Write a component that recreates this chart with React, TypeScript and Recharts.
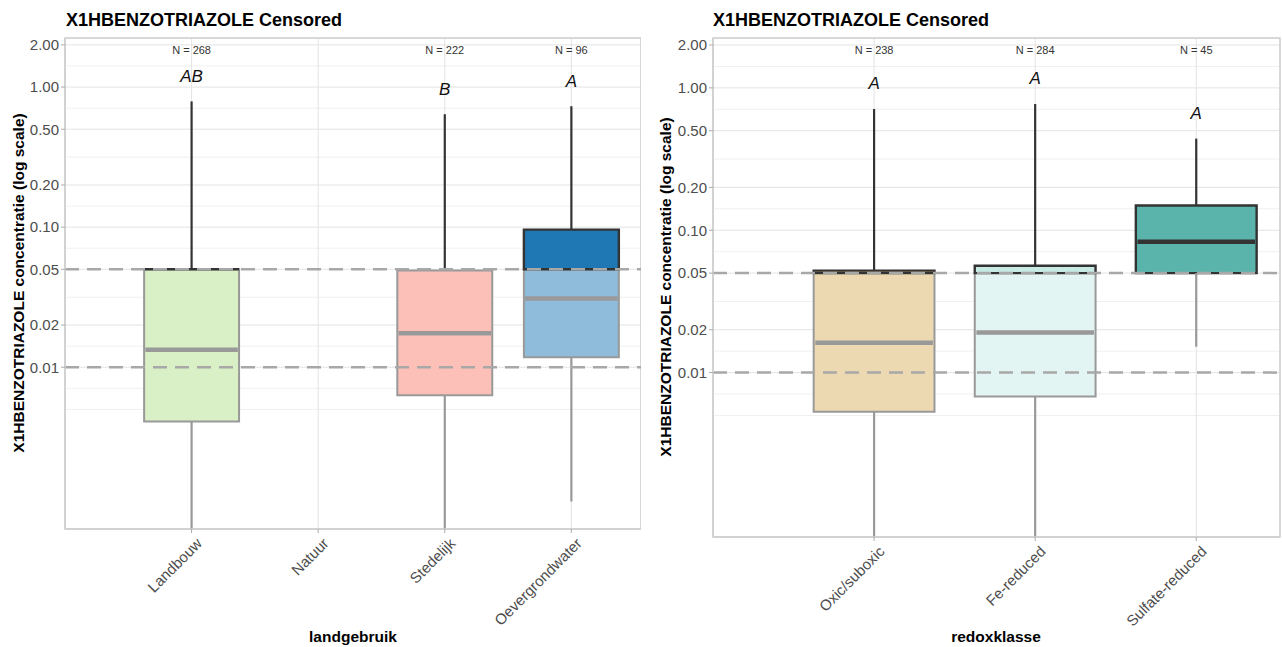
import React from "react";
import {
  ComposedChart,
  XAxis,
  YAxis,
  CartesianGrid,
  ReferenceArea,
  ReferenceLine,
  Scatter,
} from "recharts";

const TITLE = "X1HBENZOTRIAZOLE Censored";
const Y_TITLE = "X1HBENZOTRIAZOLE concentratie (log scale)";

// landgebruik panel
const landCats = ["Landbouw", "Natuur", "Stedelijk", "Oevergrondwater"];
const landN = [268, null, 222, 96];
const landLetters = ["AB", null, "B", "A"];
const landLow = [0.0007, null, 0.0007, 0.0011];
const landQ1 = [0.0041, null, 0.0063, 0.0118];
const landMedian = [0.0133, null, 0.0175, 0.031];
const landQ3 = [0.05, null, 0.049, 0.096];
const landHigh = [0.79, null, 0.64, 0.73];
const landColors = ["#b2df8a", "#cccccc", "#fb8072", "#1f78b4"];

// redoxklasse panel
const redoxCats = ["Oxic/suboxic", "Fe-reduced", "Sulfate-reduced"];
const redoxN = [238, 284, 45];
const redoxLetters = ["A", "A", "A"];
const redoxLow = [0.0007, 0.0007, 0.0152];
const redoxQ1 = [0.0053, 0.0068, 0.05];
const redoxMedian = [0.0162, 0.0191, 0.083];
const redoxQ3 = [0.052, 0.0563, 0.149];
const redoxHigh = [0.71, 0.77, 0.44];
const redoxColors = ["#d8b365", "#c7eae5", "#5ab4ac"];

const yTicks = [0.01, 0.02, 0.05, 0.1, 0.2, 0.5, 1, 2];
const yMinor = [0.005, 0.00707, 0.01414, 0.0316, 0.0707, 0.1414, 0.316, 0.707, 1.414];
const censorLines = [0.05, 0.01];
const LIMIT = 0.05;
const Y_DOMAIN: [number, number] = [0.0007, 2.24];
const N_Y = 1.85;

const DARK = "#333333";
const GREY = "#999999";
const FONT = "'Liberation Sans', Arial, Helvetica, sans-serif";

function lighten(hex: string) {
  const n = parseInt(hex.slice(1), 16);
  const r = Math.round(((n >> 16) & 255) * 0.5 + 127.5);
  const g = Math.round(((n >> 8) & 255) * 0.5 + 127.5);
  const b = Math.round((n & 255) * 0.5 + 127.5);
  return `rgb(${r},${g},${b})`;
}

type PanelProps = {
  cats: string[];
  n: (number | null)[];
  letters: (string | null)[];
  low: (number | null)[];
  q1: (number | null)[];
  median: (number | null)[];
  q3: (number | null)[];
  high: (number | null)[];
  colors: string[];
  left: number;
  width: number;
  marginRight: number;
  yAxisWidth: number;
  xAxisHeight: number;
  xMax: number;
};

function Panel(p: PanelProps) {
  const hw = 0.375;
  const marks: React.ReactElement[] = [];

  const seg = (key: string, x: number, a: number, b: number) => {
    // vertical segment split at the censoring limit
    if (b > LIMIT) {
      marks.push(
        <ReferenceLine key={key + "d"} segment={[{ x, y: Math.max(a, LIMIT) }, { x, y: b }]}
          stroke={DARK} strokeWidth={2.2} ifOverflow="hidden" />
      );
    }
    if (a < LIMIT) {
      marks.push(
        <ReferenceLine key={key + "g"} segment={[{ x, y: a }, { x, y: Math.min(b, LIMIT) }]}
          stroke={GREY} strokeWidth={2.2} ifOverflow="hidden" />
      );
    }
  };

  p.cats.forEach((_, i) => {
    const q1 = p.q1[i], q3 = p.q3[i], med = p.median[i], lo = p.low[i], hi = p.high[i];
    if (q1 == null || q3 == null || med == null || lo == null || hi == null) return;
    const x = i + 1;
    seg(`w${i}hi`, x, q3, hi);
    seg(`w${i}lo`, x, lo, q1);
    if (q1 < LIMIT) {
      marks.push(
        <ReferenceArea key={`b${i}l`} x1={x - hw} x2={x + hw} y1={q1} y2={Math.min(q3, LIMIT)}
          fill={lighten(p.colors[i])} fillOpacity={1} stroke={GREY} strokeWidth={2} ifOverflow="visible" />
      );
    }
    if (q3 > LIMIT) {
      marks.push(
        <ReferenceArea key={`b${i}u`} x1={x - hw} x2={x + hw} y1={Math.max(q1, LIMIT)} y2={q3}
          fill={p.colors[i]} fillOpacity={1} stroke={DARK} strokeWidth={2.4} ifOverflow="visible" />
      );
    } else if (q3 === LIMIT) {
      marks.push(
        <ReferenceLine key={`b${i}t`} segment={[{ x: x - hw, y: q3 }, { x: x + hw, y: q3 }]}
          stroke={DARK} strokeWidth={2.4} ifOverflow="visible" />
      );
    }
    marks.push(
      <ReferenceLine key={`m${i}`} segment={[{ x: x - hw + 0.01, y: med }, { x: x + hw - 0.01, y: med }]}
        stroke={med < LIMIT ? GREY : DARK} strokeWidth={4.5} ifOverflow="visible" />
    );
  });

  const nRows = p.cats
    .map((c, i) => ({ x: i + 1, nY: N_Y, n: p.n[i] }))
    .filter((r) => r.n != null);
  const letterRows = p.cats
    .map((c, i) => ({ x: i + 1, letterY: (p.high[i] ?? 0) * 1.5, letter: p.letters[i] }))
    .filter((r) => r.letter != null);
  const xTicks = p.cats.map((_, i) => i + 1);

  const renderTick = (t: any) => (
    <g transform={`translate(${t.x + 4},${t.y + 2})`}>
      <text x={0} y={0} dy="0.7em" textAnchor="end" transform="rotate(-45)"
        fill="#4d4d4d" fontSize={15} fontFamily={FONT}>
        {p.cats[t.payload.value - 1]}
      </text>
    </g>
  );

  return (
    <div style={{ position: "absolute", left: p.left, top: 0 }}>
      <ComposedChart width={p.width} height={647} margin={{ top: 38, right: p.marginRight, left: 0, bottom: 0 }}>
        <CartesianGrid stroke="#f0f0f0" strokeWidth={1} vertical={false} horizontalValues={yMinor} />
        <CartesianGrid stroke="#e3e3e3" strokeWidth={1} />
        <XAxis type="number" dataKey="x" domain={[0, p.xMax]} ticks={xTicks} interval={0}
          allowDataOverflow height={p.xAxisHeight} tick={renderTick}
          axisLine={{ stroke: "#d0d0d0", strokeWidth: 1.5 }} tickLine={{ stroke: "#aaaaaa" }} tickSize={4} />
        <YAxis type="number" scale="log" domain={Y_DOMAIN} ticks={yTicks} interval={0}
          allowDataOverflow width={p.yAxisWidth} tickFormatter={(v: number) => v.toFixed(2)}
          tick={{ fill: "#4d4d4d", fontSize: 15, fontFamily: FONT }}
          axisLine={{ stroke: "#d0d0d0", strokeWidth: 1.5 }} tickLine={{ stroke: "#aaaaaa" }} tickSize={4} />
        <ReferenceArea x1={0} x2={p.xMax} y1={Y_DOMAIN[0]} y2={Y_DOMAIN[1]} fill="none" fillOpacity={0}
          stroke="#d0d0d0" strokeWidth={1.5} ifOverflow="visible" />
        {marks}
        {censorLines.map((v) => (
          <ReferenceLine key={`c${v}`} y={v} stroke="#a8a8a8" strokeWidth={2.5} strokeDasharray="14 8" ifOverflow="hidden" />
        ))}
        <Scatter data={nRows} dataKey="nY" isAnimationActive={false}
          shape={(s: any) => (
            <text x={s.cx} y={s.cy} textAnchor="middle" dominantBaseline="central"
              fontSize={11} fill="#333" fontFamily={FONT}>{`N = ${s.payload.n}`}</text>
          )} />
        <Scatter data={letterRows} dataKey="letterY" isAnimationActive={false}
          shape={(s: any) => (
            <text x={s.cx} y={s.cy} textAnchor="middle" dominantBaseline="central"
              fontSize={17} fontStyle="italic" fill="#111" fontFamily={FONT}>{s.payload.letter}</text>
          )} />
      </ComposedChart>
    </div>
  );
}

export default function App() {
  return (
    <div style={{ position: "absolute", left: 0, top: 0, width: 1282, height: 647, background: "#fff", fontFamily: FONT }}>
      <Panel cats={landCats} n={landN} letters={landLetters} low={landLow} q1={landQ1}
        median={landMedian} q3={landQ3} high={landHigh} colors={landColors}
        left={0} width={641} marginRight={0} yAxisWidth={65} xAxisHeight={118} xMax={4.55} />
      <Panel cats={redoxCats} n={redoxN} letters={redoxLetters} low={redoxLow} q1={redoxQ1}
        median={redoxMedian} q3={redoxQ3} high={redoxHigh} colors={redoxColors}
        left={641} width={641} marginRight={2} yAxisWidth={72} xAxisHeight={110} xMax={3.52} />
      <svg width={1282} height={647} style={{ position: "absolute", left: 0, top: 0, pointerEvents: "none" }}>
        <g fontFamily={FONT} fontWeight={700} fill="#000">
          <text x={66} y={26} fontSize={18}>{TITLE}</text>
          <text x={713} y={26} fontSize={18}>{TITLE}</text>
          <text transform="translate(24,283) rotate(-90)" textAnchor="middle" fontSize={15.5}>{Y_TITLE}</text>
          <text transform="translate(671,287) rotate(-90)" textAnchor="middle" fontSize={15.5}>{Y_TITLE}</text>
          <text x={353} y={642} textAnchor="middle" fontSize={15.5}>landgebruik</text>
          <text x={996} y={642} textAnchor="middle" fontSize={15.5}>redoxklasse</text>
        </g>
      </svg>
    </div>
  );
}
